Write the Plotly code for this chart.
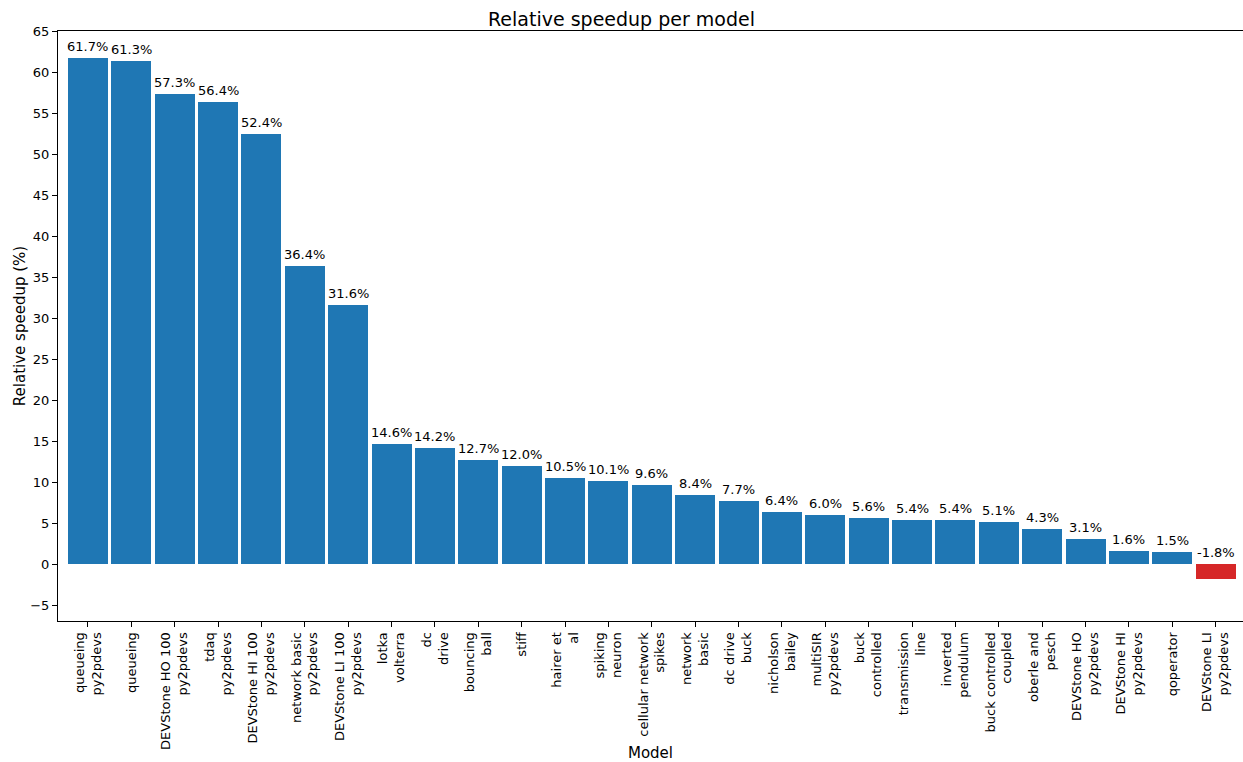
import plotly.graph_objects as go

models = [
    "queueing<br>py2pdevs", "queueing", "DEVStone HO 100<br>py2pdevs", "tdaq<br>py2pdevs",
    "DEVStone HI 100<br>py2pdevs", "network basic<br>py2pdevs", "DEVStone LI 100<br>py2pdevs",
    "lotka<br>volterra", "dc<br>drive", "bouncing<br>ball", "stiff", "hairer et<br>al",
    "spiking<br>neuron", "cellular network<br>spikes", "network<br>basic", "dc drive<br>buck",
    "nicholson<br>bailey", "multiSIR<br>py2pdevs", "buck<br>controlled", "transmission<br>line",
    "inverted<br>pendulum", "buck controlled<br>coupled", "oberle and<br>pesch",
    "DEVStone HO<br>py2pdevs", "DEVStone HI<br>py2pdevs", "qoperator", "DEVStone LI<br>py2pdevs",
]
speedup = [61.7, 61.3, 57.3, 56.4, 52.4, 36.4, 31.6, 14.6, 14.2, 12.7, 12.0, 10.5, 10.1, 9.6,
           8.4, 7.7, 6.4, 6.0, 5.6, 5.4, 5.4, 5.1, 4.3, 3.1, 1.6, 1.5, -1.8]

FONT = "DejaVu Sans"
xs = list(range(len(models)))
colors = ["#1f77b4" if v >= 0 else "#d62728" for v in speedup]

fig = go.Figure(go.Bar(x=xs, y=speedup, width=0.92, marker=dict(color=colors, line=dict(width=0)),
                       hoverinfo="skip"))

annotations = [
    dict(x=x, y=max(v, 0), text=f"{v:.1f}%", showarrow=False, yanchor="bottom", yshift=2,
         font=dict(family=FONT, size=13, color="black"))
    for x, v in zip(xs, speedup)
]

fig.update_layout(
    width=1243, height=762,
    margin=dict(l=58, r=0, t=31, b=141),
    paper_bgcolor="white", plot_bgcolor="white",
    showlegend=False,
    font=dict(family=FONT, size=13, color="black"),
    title=dict(text="Relative speedup per model", x=0.5, xanchor="center", y=1 - 19 / 762,
               yanchor="middle", font=dict(family=FONT, size=19, color="black")),
    annotations=annotations,
    bargap=0,
)
fig.update_xaxes(
    range=[-0.69, 26.63], tickvals=xs, ticktext=models, tickangle=-90,
    showline=True, linecolor="black", linewidth=1, mirror=True,
    ticks="outside", ticklen=5, tickcolor="black", showgrid=False, zeroline=False,
    tickfont=dict(family=FONT, size=13, color="black"), automargin=False,
    title=dict(text="Model", font=dict(family=FONT, size=15, color="black"), standoff=2),
)
fig.update_yaxes(
    range=[-6.95, 65], tickvals=[-5, 0, 5, 10, 15, 20, 25, 30, 35, 40, 45, 50, 55, 60, 65],
    showline=True, linecolor="black", linewidth=1, mirror=False,
    ticks="outside", ticklen=5, tickcolor="black", showgrid=False, zeroline=False,
    tickfont=dict(family=FONT, size=13, color="black"), automargin=False,
    title=dict(text="Relative speedup (%)", font=dict(family=FONT, size=15, color="black"), standoff=0),
)

fig.write_html("out.html")
